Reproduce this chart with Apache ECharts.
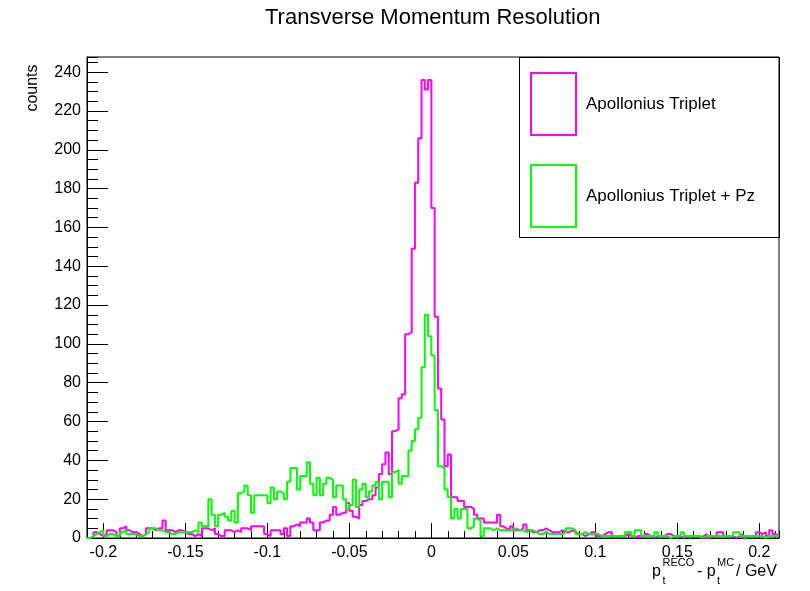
<!DOCTYPE html>
<html>
<head>
<meta charset="utf-8">
<script src="https://cdn.jsdelivr.net/npm/echarts@6/dist/echarts.min.js"></script>
<style>
  html, body { margin: 0; padding: 0; background: #fff; }
  #chart { width: 810px; height: 591px; }
</style>
</head>
<body>
<div id="chart"></div>
<script>
// Histogram binning: 211 bins of 0.002 GeV starting at -0.21 GeV
const binLow = -0.21;
const binWidth = 0.002;

const seriesNames = ['Apollonius Triplet', 'Apollonius Triplet + Pz'];
const seriesColors = ['#ff00ff', '#00ff00'];

// Counts per bin, Apollonius Triplet
const countsTriplet = [
  0, 1, 3, 2, 1, 2, 4, 4, 3, 1,
  5, 6, 4, 3, 3, 2, 1, 2, 5, 5,
  4, 5, 5, 9, 4, 4, 3, 4, 4, 3,
  2, 2, 1, 2, 1, 5, 5, 4, 5, 2,
  1, 1, 4, 4, 3, 4, 3, 5, 5, 4,
  6, 6, 6, 6, 2, 1, 4, 4, 4, 2,
  5, 1, 6, 7, 6, 8, 8, 10, 8, 4,
  4, 8, 9, 9, 12, 16, 12, 13, 13, 18,
  14, 11, 10, 17, 19, 20, 20, 22, 26, 33,
  38, 44, 33, 55, 56, 72, 74, 105, 106, 149,
  183, 206, 236, 231, 236, 170, 114, 77, 61, 37,
  43, 21, 21, 19, 19, 16, 16, 15, 12, 10,
  10, 8, 8, 8, 8, 12, 6, 5, 4, 6,
  4, 4, 5, 7, 4, 3, 3, 4, 4, 5,
  4, 3, 3, 3, 4, 3, 3, 4, 3, 2,
  2, 1, 2, 3, 3, 1, 1, 2, 3, 3,
  1, 0, 1, 1, 2, 1, 0, 1, 1, 0,
  2, 1, 0, 1, 0, 1, 2, 2, 1, 0,
  1, 0, 1, 0, 1, 1, 0, 1, 2, 0,
  1, 0, 3, 3, 1, 0, 1, 0, 1, 2,
  0, 1, 0, 1, 3, 2, 3, 1, 4, 2,
  1
];

// Counts per bin, Apollonius Triplet + Pz
const countsTripletPz = [
  0, 1, 2, 3, 4, 1, 2, 2, 1, 1,
  3, 4, 2, 2, 2, 1, 1, 2, 3, 5,
  5, 4, 4, 3, 3, 2, 2, 3, 3, 3,
  3, 3, 4, 3, 8, 6, 6, 20, 12, 6,
  12, 13, 11, 9, 14, 8, 23, 24, 27, 22,
  13, 22, 22, 22, 22, 18, 26, 20, 24, 23,
  20, 29, 36, 36, 25, 32, 32, 39, 28, 22,
  31, 22, 28, 31, 30, 21, 27, 27, 20, 15,
  17, 30, 16, 25, 28, 21, 24, 27, 29, 20,
  29, 29, 21, 34, 35, 28, 32, 32, 45, 50,
  56, 62, 88, 115, 104, 94, 66, 37, 36, 25,
  21, 10, 15, 10, 15, 15, 5, 6, 10, 9,
  1, 5, 5, 4, 5, 4, 4, 4, 4, 4,
  5, 4, 4, 3, 4, 4, 3, 2, 2, 3,
  2, 2, 2, 2, 2, 3, 5, 5, 4, 2,
  2, 3, 2, 2, 2, 2, 1, 1, 1, 1,
  1, 1, 1, 1, 3, 3, 1, 4, 4, 1,
  1, 1, 1, 3, 1, 1, 1, 0, 1, 1,
  1, 3, 1, 1, 1, 1, 1, 0, 1, 1,
  1, 1, 1, 1, 1, 1, 1, 3, 3, 1,
  1, 1, 1, 1, 1, 1, 0, 1, 1, 1,
  1
];

const xMin = -0.21, xMax = 0.212;
const yMax = 247.8;
const fontFamily = '"Liberation Sans", Arial, Helvetica, sans-serif';

// Turn bin counts into step points at the low edge of each bin,
// closing the last bin at its high edge.
function histSteps(counts) {
  const pts = counts.map((c, i) => [+(binLow + i * binWidth).toFixed(4), c]);
  pts.push([+(binLow + counts.length * binWidth).toFixed(4), counts[counts.length - 1]]);
  return pts;
}

const chart = echarts.init(document.getElementById('chart'), null, { renderer: 'canvas' });

const txt = (text, x, y, size, align) => ({
  type: 'text', x: x, y: y, silent: true,
  style: {
    text: text, fill: '#000', textAlign: align || 'left', textVerticalAlign: 'middle',
    font: size + 'px ' + fontFamily
  }
});

chart.setOption({
  animation: false,
  backgroundColor: '#fff',
  title: {
    text: 'Transverse Momentum Resolution',
    left: 265, top: 7, padding: 0,
    textStyle: { fontSize: 22, fontWeight: 'normal', color: '#000', fontFamily: fontFamily }
  },
  grid: {
    left: 87, right: 31, top: 57, bottom: 53,
    show: true, borderColor: '#000', borderWidth: 1, backgroundColor: 'transparent'
  },
  legend: {
    orient: 'vertical', left: 530, top: 72, padding: 0,
    itemWidth: 45, itemHeight: 62, itemGap: 28, icon: 'rect',
    selectedMode: false,
    itemStyle: { color: 'rgba(0,0,0,0)', borderWidth: 2 },
    textStyle: { fontSize: 17, color: '#000', fontFamily: fontFamily, padding: [0, 0, 0, 5] },
    data: [
      { name: seriesNames[0], itemStyle: { borderColor: seriesColors[0], color: 'rgba(0,0,0,0)' } },
      { name: seriesNames[1], itemStyle: { borderColor: seriesColors[1], color: 'rgba(0,0,0,0)' } }
    ]
  },
  xAxis: [
    {
      type: 'value', min: xMin, max: xMax, splitNumber: 8, position: 'bottom',
      axisLine: { show: true, onZero: false, lineStyle: { color: '#000', width: 1 } },
      axisTick: { show: true, inside: true, length: 15, lineStyle: { color: '#000', width: 1 } },
      axisLabel: {
        show: true, margin: 7, color: '#000', fontSize: 16, fontFamily: fontFamily,
        showMinLabel: false, showMaxLabel: false
      },
      splitLine: { show: false }
    },
    {
      type: 'value', min: xMin, max: xMax, interval: 0.01, position: 'bottom',
      axisLine: { show: false, onZero: false },
      axisTick: { show: true, inside: true, length: 7, lineStyle: { color: '#000', width: 1 } },
      axisLabel: { show: false },
      splitLine: { show: false }
    }
  ],
  yAxis: [
    {
      type: 'value', min: 0, max: yMax, interval: 20, position: 'left',
      axisLine: { show: true, onZero: false, lineStyle: { color: '#000', width: 1 } },
      axisTick: { show: true, inside: true, length: 21, lineStyle: { color: '#000', width: 1 } },
      axisLabel: {
        show: true, margin: 6, color: '#000', fontSize: 16, fontFamily: fontFamily,
        showMaxLabel: false
      },
      splitLine: { show: false }
    },
    {
      type: 'value', min: 0, max: yMax, interval: 5, position: 'left',
      axisLine: { show: false, onZero: false },
      axisTick: { show: true, inside: true, length: 11, lineStyle: { color: '#000', width: 1 } },
      axisLabel: { show: false },
      splitLine: { show: false }
    }
  ],
  graphic: [
    // legend frame
    {
      type: 'rect', z: 1, silent: true,
      shape: { x: 519.5, y: 57.5, width: 260, height: 180 },
      style: { fill: 'rgba(0,0,0,0)', stroke: '#000', lineWidth: 1 }
    },
    // y axis title
    {
      type: 'text', x: 33, y: 88, rotation: Math.PI / 2, silent: true,
      style: {
        text: 'counts', fill: '#000', textAlign: 'center', textVerticalAlign: 'middle',
        font: '16px ' + fontFamily
      }
    },
    // x axis title: p_t^RECO - p_t^MC / GeV
    txt('p', 652, 572, 16),
    txt('RECO', 662.5, 563, 11),
    txt('t', 662.5, 581, 11),
    txt('- p', 697, 572, 16),
    txt('MC', 717, 563, 11),
    txt('t', 717, 581, 11),
    txt('/ GeV', 736, 572, 16)
  ],
  series: [
    {
      name: seriesNames[0], type: 'line', step: 'end', symbol: 'none',
      xAxisIndex: 0, yAxisIndex: 0, clip: true,
      data: histSteps(countsTriplet),
      itemStyle: { color: seriesColors[0] },
      lineStyle: { color: seriesColors[0], width: 2 }
    },
    {
      name: seriesNames[1], type: 'line', step: 'end', symbol: 'none',
      xAxisIndex: 0, yAxisIndex: 0, clip: true,
      data: histSteps(countsTripletPz),
      itemStyle: { color: seriesColors[1] },
      lineStyle: { color: seriesColors[1], width: 2 }
    }
  ]
});
</script>
</body>
</html>
